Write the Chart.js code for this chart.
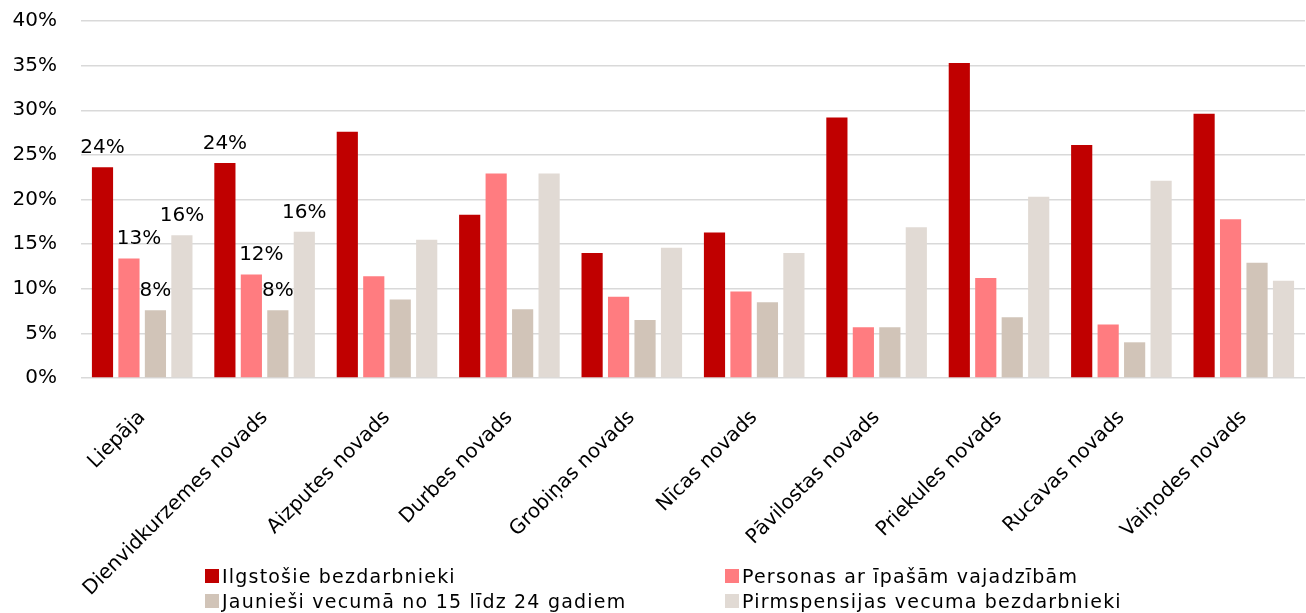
<!DOCTYPE html>
<html>
<head>
<meta charset="utf-8">
<script src="https://cdn.jsdelivr.net/npm/chart.js@4"></script>
<style>
    body { margin: 0; background: #fff; }
    #wrap { position: relative; width: 1306px; height: 613px; }
    #legend { position: absolute; left: 0; top: 0; width: 1306px; height: 613px; pointer-events: none;
              font-family: 'DejaVu Sans', sans-serif; font-size: 19px; letter-spacing: 1.2px; color: #000; }
    .item { position: absolute; display: flex; align-items: center; white-space: nowrap; height: 24px; }
    .box { width: 14px; height: 14px; margin-right: 3px; }
</style>
</head>
<body>
<div id="wrap">
    <canvas id="chart"></canvas>
    <div id="legend"></div>
</div>
<script>
const categories = ['Liepāja', 'Dienvidkurzemes novads', 'Aizputes novads', 'Durbes novads', 'Grobiņas novads',
    'Nīcas novads', 'Pāvilostas novads', 'Priekules novads', 'Rucavas novads', 'Vaiņodes novads'];
const seriesNames = ['Ilgstošie bezdarbnieki', 'Personas ar īpašām vajadzībām',
    'Jaunieši vecumā no 15 līdz 24 gadiem', 'Pirmspensijas vecuma bezdarbnieki'];
const longTerm = [23.6, 24.1, 27.6, 18.3, 14.0, 16.3, 29.2, 35.3, 26.1, 29.6];
const specialNeeds = [13.4, 11.6, 11.4, 22.9, 9.1, 9.7, 5.7, 11.2, 6.0, 17.8];
const youth = [7.6, 7.6, 8.8, 7.7, 6.5, 8.5, 5.7, 6.8, 4.0, 12.9];
const prePension = [16.0, 16.4, 15.5, 22.9, 14.6, 14.0, 16.9, 20.3, 22.1, 10.9];
const yTicks = [0, 5, 10, 15, 20, 25, 30, 35, 40];
const labelledCategories = [0, 1]; // only the first two groups carry value labels

const colors = ['#C00000', '#FF7C80', '#D1C4B8', '#E1DAD4'];
const fontFamily = "'DejaVu Sans', sans-serif";

// draws the "24%" style labels above the bars of the first groups
const valueLabels = {
    id: 'valueLabels',
    afterDatasetsDraw(chart) {
        const ctx = chart.ctx;
        ctx.save();
        ctx.font = '20px ' + fontFamily;
        ctx.fillStyle = '#000';
        ctx.textAlign = 'center';
        ctx.textBaseline = 'alphabetic';
        chart.data.datasets.forEach((ds, di) => {
            const meta = chart.getDatasetMeta(di);
            labelledCategories.forEach(i => {
                const bar = meta.data[i];
                const shift = di === 1 ? 10 : 0; // pink labels sit a bit to the right
                ctx.fillText(Math.round(ds.data[i]) + '%', bar.x + shift, bar.y - 14);
            });
        });
        ctx.restore();
    }
};

const datasets = [longTerm, specialNeeds, youth, prePension].map((values, i) => ({
    label: seriesNames[i],
    data: values,
    backgroundColor: colors[i],
    categoryPercentage: 0.865,
    barPercentage: 0.8
}));

new Chart(document.getElementById('chart'), {
    type: 'bar',
    data: { labels: categories, datasets: datasets },
    plugins: [valueLabels],
    options: {
        responsive: true,
        maintainAspectRatio: false,
        animation: false,
        layout: { padding: { top: 0, right: 1, left: 0, bottom: 0 } },
        plugins: {
            legend: { display: false },
            tooltip: { enabled: false }
        },
        scales: {
            x: {
                grid: { display: false },
                border: { display: false },
                ticks: {
                    color: '#000',
                    font: { family: fontFamily, size: 20 },
                    maxRotation: 45,
                    minRotation: 45,
                    padding: 20,
                    autoSkip: false
                },
                afterFit(scale) { scale.height = 235; }
            },
            y: {
                min: 0,
                max: 40,
                border: { display: false },
                // tick marks kept invisible, they only push the labels away from the plot
                grid: { color: '#d9d9d9', lineWidth: 1.5, drawTicks: true, tickLength: 15, tickColor: 'rgba(0,0,0,0)' },
                afterBuildTicks(scale) { scale.ticks = yTicks.map(v => ({ value: v })); },
                ticks: {
                    color: '#000',
                    font: { family: fontFamily, size: 20 },
                    padding: 9,
                    callback: v => v + '%'
                },
                afterFit(scale) { scale.width = 81; }
            }
        }
    }
});

// legend in two fixed columns, like the original
const legendBox = document.getElementById('legend');
const legendPos = [[205, 564], [725, 564], [205, 589], [725, 589]];
seriesNames.forEach((name, i) => {
    const item = document.createElement('div');
    item.className = 'item';
    item.style.left = legendPos[i][0] + 'px';
    item.style.top = legendPos[i][1] + 'px';
    item.innerHTML = `<span class="box" style="background:${colors[i]}"></span><span>${name}</span>`;
    legendBox.appendChild(item);
});
</script>
</body>
</html>
